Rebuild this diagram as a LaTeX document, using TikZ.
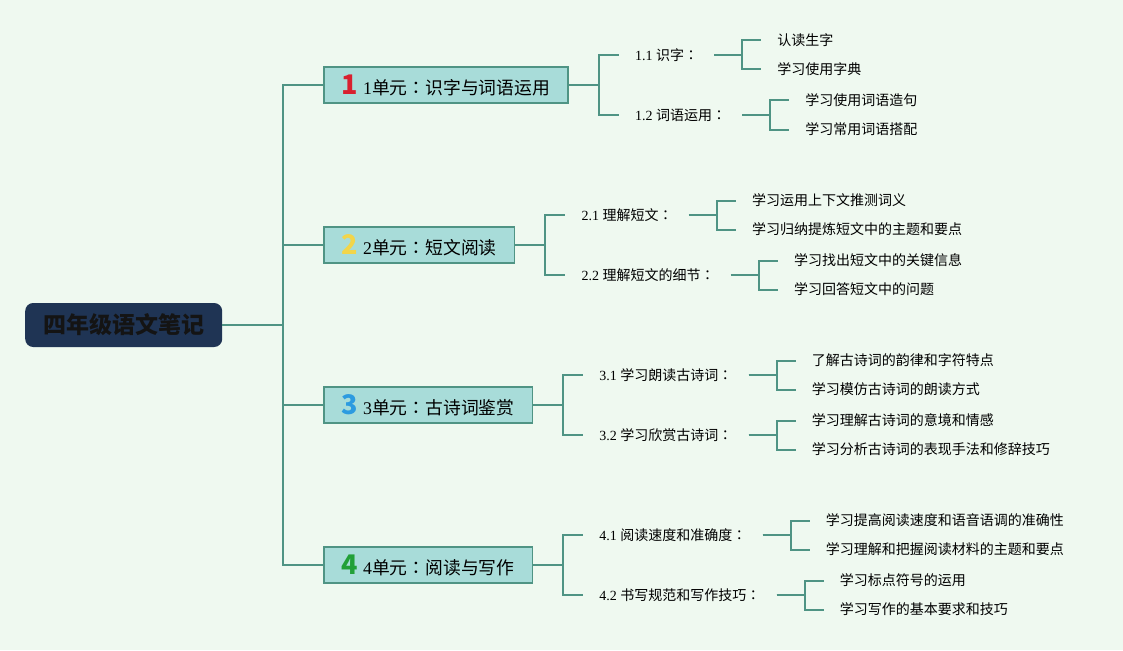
\documentclass[tikz,border=0pt]{standalone}
\usepackage{fontspec}
\setmainfont{Liberation Serif}
\newfontfamily\cjk{Noto Sans CJK SC}
\newfontfamily\cjkjp{Noto Sans CJK JP}
\usetikzlibrary{positioning}
\definecolor{bgmint}{HTML}{EFF9F0}
\definecolor{linkteal}{HTML}{4F9484}
\definecolor{boxteal}{HTML}{A8DCD9}
\definecolor{rootnavy}{HTML}{1F3454}
\definecolor{numred}{HTML}{D8202F}
\definecolor{numyellow}{HTML}{F2D54A}
\definecolor{numblue}{HTML}{2C9BE0}
\definecolor{numgreen}{HTML}{22A038}
\newcommand{\unitnum}[2]{{\cjk\bfseries\fontsize{27}{27}\selectfont\color{#1}#2}\hspace{5pt}}
\newcommand{\zcolon}{{\cjkjp ：}}

\begin{document}
\begin{tikzpicture}[x=1pt,y=-1pt,
  link/.style={draw=linkteal,line width=2pt},
  rootbox/.style={fill=rootnavy,rounded corners=8pt,minimum width=197pt,minimum height=44pt,
    font=\cjk\bfseries\fontsize{23}{23}\selectfont,text=black!92},
  unitbox/.style={draw=linkteal,line width=1.5pt,fill=boxteal,minimum height=36pt,
    inner xsep=18pt,font=\fontsize{17.8}{17.8}\selectfont},
  sublbl/.style={inner xsep=16pt,inner ysep=2pt,font=\fontsize{14}{14}\selectfont},
  leaf/.style={inner xsep=16pt,inner ysep=2pt,font=\cjk\fontsize{14}{14}\selectfont}]
\fill[bgmint] (0,0) rectangle (1123,650);
\useasboundingbox (0,0) rectangle (1123,650);
%
\node[rootbox,anchor=west] (root) at (25,325) {四年级语文笔记};
\node[unitbox,anchor=west] (u1) at (323,85) {\unitnum{numred}{1}1\cjk 单元\zcolon 识字与词语运用};
\node[unitbox,anchor=west] (u2) at (323,245) {\unitnum{numyellow}{2}2\cjk 单元\zcolon 短文阅读};
\node[unitbox,anchor=west] (u3) at (323,405) {\unitnum{numblue}{3}3\cjk 单元\zcolon 古诗词鉴赏};
\node[unitbox,anchor=west] (u4) at (323,565) {\unitnum{numgreen}{4}4\cjk 单元\zcolon 阅读与写作};
%
\node[sublbl,right=50pt of u1.east,yshift=30pt] (s11) {1.1 \cjk 识字\zcolon};
\node[sublbl,right=50pt of u1.east,yshift=-30pt] (s12) {1.2 \cjk 词语运用\zcolon};
\node[sublbl,right=50pt of u2.east,yshift=30pt] (s21) {2.1 \cjk 理解短文\zcolon};
\node[sublbl,right=50pt of u2.east,yshift=-30pt] (s22) {2.2 \cjk 理解短文的细节\zcolon};
\node[sublbl,right=50pt of u3.east,yshift=30pt] (s31) {3.1 \cjk 学习朗读古诗词\zcolon};
\node[sublbl,right=50pt of u3.east,yshift=-30pt] (s32) {3.2 \cjk 学习欣赏古诗词\zcolon};
\node[sublbl,right=50pt of u4.east,yshift=30pt] (s41) {4.1 \cjk 阅读速度和准确度\zcolon};
\node[sublbl,right=50pt of u4.east,yshift=-30pt] (s42) {4.2 \cjk 书写规范和写作技巧\zcolon};
%
\node[leaf,right=47pt of s11.east,yshift=14.5pt] (l111) {认读生字};
\node[leaf,right=47pt of s11.east,yshift=-14.5pt] (l112) {学习使用字典};
\node[leaf,right=47pt of s12.east,yshift=14.5pt] (l121) {学习使用词语造句};
\node[leaf,right=47pt of s12.east,yshift=-14.5pt] (l122) {学习常用词语搭配};
\node[leaf,right=47pt of s21.east,yshift=14.5pt] (l211) {学习运用上下文推测词义};
\node[leaf,right=47pt of s21.east,yshift=-14.5pt] (l212) {学习归纳提炼短文中的主题和要点};
\node[leaf,right=47pt of s22.east,yshift=14.5pt] (l221) {学习找出短文中的关键信息};
\node[leaf,right=47pt of s22.east,yshift=-14.5pt] (l222) {学习回答短文中的问题};
\node[leaf,right=47pt of s31.east,yshift=14.5pt] (l311) {了解古诗词的韵律和字符特点};
\node[leaf,right=47pt of s31.east,yshift=-14.5pt] (l312) {学习模仿古诗词的朗读方式};
\node[leaf,right=47pt of s32.east,yshift=14.5pt] (l321) {学习理解古诗词的意境和情感};
\node[leaf,right=47pt of s32.east,yshift=-14.5pt] (l322) {学习分析古诗词的表现手法和修辞技巧};
\node[leaf,right=47pt of s41.east,yshift=14.5pt] (l411) {学习提高阅读速度和语音语调的准确性};
\node[leaf,right=47pt of s41.east,yshift=-14.5pt] (l412) {学习理解和把握阅读材料的主题和要点};
\node[leaf,right=47pt of s42.east,yshift=14.5pt] (l421) {学习标点符号的运用};
\node[leaf,right=47pt of s42.east,yshift=-14.5pt] (l422) {学习写作的基本要求和技巧};
%
\foreach \u in {u1,u2,u3,u4}
  \draw[link] (root.east) -- ++(61,0) |- (\u.west);
\foreach \u/\s in {u1/s11,u1/s12,u2/s21,u2/s22,u3/s31,u3/s32,u4/s41,u4/s42}
  \draw[link] (\u.east) -- ++(30,0) |- (\s.west);
\foreach \s/\l in {s11/l111,s11/l112,s12/l121,s12/l122,s21/l211,s21/l212,s22/l221,s22/l222,
  s31/l311,s31/l312,s32/l321,s32/l322,s41/l411,s41/l412,s42/l421,s42/l422}
  \draw[link] (\s.east) -- ++(28,0) |- (\l.west);
\end{tikzpicture}
\end{document}
